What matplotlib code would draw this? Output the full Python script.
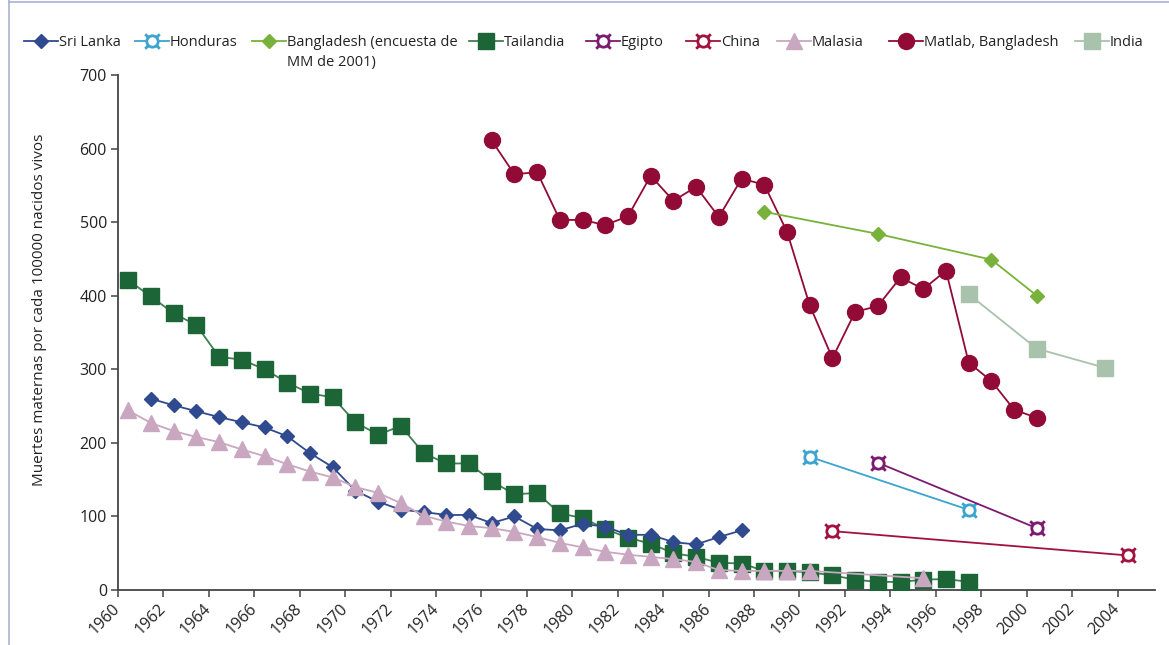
import numpy as np
import matplotlib
matplotlib.use("Agg")
import matplotlib.pyplot as plt
from matplotlib.lines import Line2D
from matplotlib.path import Path

plt.rcParams['font.family'] = ['Open Sans', 'DejaVu Sans']

# --- series (maternal deaths per 100000 live births) -----------------------
sri_years = list(range(1961, 1988))
sri_vals = [260, 251, 243, 235, 228, 221, 209, 186, 167,
            135, 120, 109, 106, 102, 102, 91, 100, 83, 81,
            90, 86, 75, 75, 65, 62, 72, 81]

tha_years = list(range(1960, 1998))
tha_vals = [421, 399, 376, 360, 317, 313, 300, 282, 267, 262,
            228, 211, 223, 186, 172, 172, 148, 130, 132, 104,
            98, 83, 71, 63, 50, 45, 37, 36, 26, 26,
            24, 20, 14, 11, 11, 14, 15, 11]

mal_years = list(range(1960, 1991)) + [1995]
mal_vals = [244, 227, 216, 208, 201, 191, 182, 171, 161, 153,
            140, 132, 118, 101, 93, 87, 84, 79, 72, 64,
            58, 52, 48, 45, 42, 38, 27, 26, 26, 26,
            26, 16]

matlab_years = list(range(1976, 2001))
matlab_vals = [611, 565, 568, 503, 503, 496, 508, 563, 529, 548,
               507, 559, 551, 487, 387, 315, 378, 386, 425, 409,
               434, 309, 284, 245, 234]

bgd_years = [1988, 1993, 1998, 2000]
bgd_vals = [514, 484, 449, 400]

ind_years = [1997, 2000, 2003]
ind_vals = [402, 328, 302]

hnd_years = [1990, 1997]
hnd_vals = [181, 109]

egy_years = [1993, 2000]
egy_vals = [173, 84]

chn_years = [1991, 2004]
chn_vals = [80, 47]

x_ticks = list(range(1960, 2005, 2))
y_ticks = list(range(0, 701, 100))

# ring with four short spokes, like a currency sign
_ring = Path.circle((0, 0), 0.55)
_spokes = []
for a in (45, 135, 225, 315):
    c, s = np.cos(np.radians(a)), np.sin(np.radians(a))
    _spokes.append(Path([(0.55 * c, 0.55 * s), (1.0 * c, 1.0 * s)],
                        [Path.MOVETO, Path.LINETO]))
RING = Path.make_compound_path(_ring, *_spokes)

BGD_LABEL = "Bangladesh (encuesta de\nMM de 2001)"

# label, years, values, line colour, marker style
SERIES = [
    ("Tailandia", tha_years, tha_vals, '#3f7f52',
     dict(marker='s', ms=11.5, mfc='#1b6536', mec='#1b6536')),
    ("Sri Lanka", sri_years, sri_vals, '#2f4a8e',
     dict(marker='D', ms=7.5, mfc='#2f4a8e', mec='#2f4a8e')),
    ("Malasia", mal_years, mal_vals, '#c9a7c0',
     dict(marker='^', ms=11, mfc='#c9a7c0', mec='#c9a7c0')),
    ("Matlab, Bangladesh", matlab_years, matlab_vals, '#920b37',
     dict(marker='o', ms=11.5, mfc='#920b37', mec='#920b37')),
    (BGD_LABEL, bgd_years, bgd_vals, '#78b23a',
     dict(marker='D', ms=7.5, mfc='#78b23a', mec='#78b23a')),
    ("India", ind_years, ind_vals, '#a9c2ab',
     dict(marker='s', ms=12, mfc='#a9c2ab', mec='#a9c2ab')),
    ("Honduras", hnd_years, hnd_vals, '#3ba4cf',
     dict(marker=RING, ms=10.5, mfc='white', mec='#3ba4cf', mew=2)),
    ("Egipto", egy_years, egy_vals, '#7c1a6f',
     dict(marker=RING, ms=10.5, mfc='white', mec='#7c1a6f', mew=2)),
    ("China", chn_years, chn_vals, '#a3123f',
     dict(marker=RING, ms=10.5, mfc='white', mec='#a3123f', mew=2)),
]
STYLE = {name: (col, mk) for name, _, _, col, mk in SERIES}

# points sit in the middle of each year slot
SHIFT = 0.45

W, H = 1169, 645
fig = plt.figure(figsize=(W / 100, H / 100), dpi=100)
ax = fig.add_axes([118 / W, 55 / H, (1155 - 118) / W, (590 - 75) / H])

for name, yrs, vals, col, mk in SERIES:
    ax.plot(np.array(yrs) + SHIFT, vals, color=col, lw=1.3, zorder=3,
            **mk)

ax.set_xlim(1960, 2005.65)
ax.set_ylim(0, 700)
ax.set_xticks(x_ticks)
ax.set_xticklabels([str(t) for t in x_ticks], rotation=45, ha='right',
                   va='center', rotation_mode='anchor', fontsize=11.5,
                   color='#222222')
ax.set_yticks(y_ticks)
ax.set_yticklabels([str(t) for t in y_ticks], fontsize=11.5, color='#222222')
ax.tick_params(axis='both', direction='out', length=5, width=1.1,
               color='#444444', pad=3)
ax.tick_params(axis='x', pad=7)
for side in ('top', 'right'):
    ax.spines[side].set_visible(False)
for side in ('left', 'bottom'):
    ax.spines[side].set_color('#444444')
    ax.spines[side].set_linewidth(1.3)
ax.set_ylabel("Muertes maternas por cada 100000 nacidos vivos", fontsize=11,
              color='#222222')
ax.yaxis.set_label_coords((47 - 118) / (1155 - 118),
                          (590 - 310) / (590 - 75))

# --- legend row along the top ---------------------------------------------
LEGEND = [
    ("Sri Lanka", 24), ("Honduras", 135), (BGD_LABEL, 252),
    ("Tailandia", 469), ("Egipto", 586), ("China", 686), ("Malasia", 777),
    ("Matlab, Bangladesh", 889), ("India", 1075),
]
ly = 41
for name, x0 in LEGEND:
    col, mk = STYLE[name]
    fy = 1 - ly / H
    fig.add_artist(Line2D([x0 / W, (x0 + 34) / W], [fy, fy],
                          transform=fig.transFigure, color=col, lw=1.3))
    fig.add_artist(Line2D([(x0 + 17) / W], [fy], transform=fig.transFigure,
                          color=col, lw=0, **mk))
    for k, line in enumerate(name.split("\n")):
        fig.text((x0 + 35) / W, 1 - (ly + 5 + 20 * k) / H, line,
                 fontsize=10.5, color='#222222', ha='left', va='baseline')

# outer frame on the left and top
fc = '#a9b3d3'
fig.add_artist(Line2D([8.5 / W, 8.5 / W], [0, 1], transform=fig.transFigure,
                      color=fc, lw=1.2))
fig.add_artist(Line2D([8.5 / W, 1], [1 - 1.5 / H, 1 - 1.5 / H],
                      transform=fig.transFigure, color=fc, lw=1.2))

fig.savefig("out.png", dpi=100, facecolor='white')
